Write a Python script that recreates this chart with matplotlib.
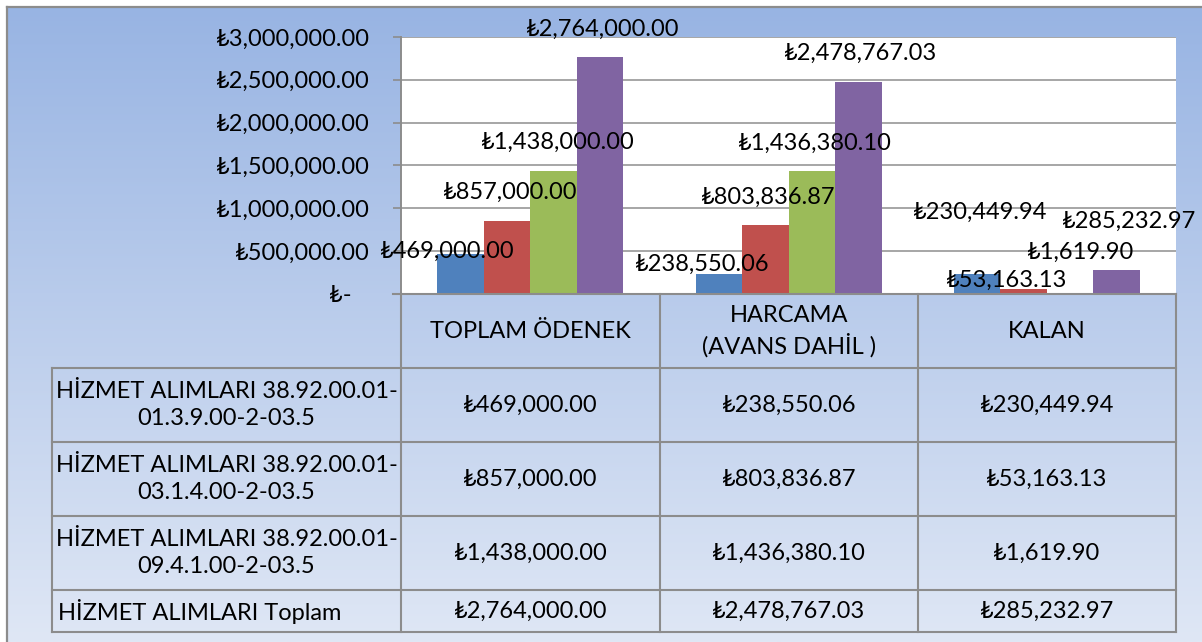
import numpy as np
import matplotlib
matplotlib.use('Agg')
import matplotlib.pyplot as plt
from matplotlib.ticker import FuncFormatter
from matplotlib.lines import Line2D
from matplotlib.colors import to_rgb

# ---------------- data ----------------
categories = ['TOPLAM ÖDENEK', 'HARCAMA\n(AVANS DAHİL )', 'KALAN']
series_names = ['HİZMET ALIMLARI 38.92.00.01-\n01.3.9.00-2-03.5',
                'HİZMET ALIMLARI 38.92.00.01-\n03.1.4.00-2-03.5',
                'HİZMET ALIMLARI 38.92.00.01-\n09.4.1.00-2-03.5',
                'HİZMET ALIMLARI Toplam']
series_1 = [469000.00, 238550.06, 230449.94]
series_2 = [857000.00, 803836.87, 53163.13]
series_3 = [1438000.00, 1436380.10, 1619.90]
series_4 = [2764000.00, 2478767.03, 285232.97]
y_ticks = [0, 500000, 1000000, 1500000, 2000000, 2500000, 3000000]

series = [series_1, series_2, series_3, series_4]
colors = ['#4F81BD', '#C0504D', '#9BBB59', '#8064A2']

# label offsets (pixels) relative to top-centre of each bar  [series][category]
label_offsets = [[(-13, 2), (-16, 9), (3, 62)],
                 [(3, 28), (3, 28), (-17, 9)],
                 [(4, 28), (3, 28), (10, 42)],
                 [(3, 28), (2, 28), (12, 48)]]

FONT = ['Lato', 'Noto Sans', 'DejaVu Sans']
FS = 17
plt.rcParams['font.family'] = FONT

W, H = 1202, 642
fig = plt.figure(figsize=(W / 100, H / 100), dpi=100, facecolor='white')

def fx(x):
    return x / W

def fy(y):
    return 1 - y / H

# ---------------- background gradient ----------------
bg = fig.add_axes([fx(7), 0, 1 - fx(7), fy(7)], zorder=-10)
top_c = np.array(to_rgb('#98B4E3'))
bot_c = np.array(to_rgb('#DFE7F5'))
t = np.linspace(0, 1, 256)[:, None]
grad = top_c[None, None, :] * (1 - t[:, :, None]) + bot_c[None, None, :] * t[:, :, None]
bg.imshow(grad, aspect='auto', extent=[0, 1, 0, 1], origin='upper')
bg.set_axis_off()

border_c = '#8C8C8C'
fig.add_artist(Line2D([fx(7), 1], [fy(7), fy(7)], color=border_c, lw=1.6, transform=fig.transFigure))
fig.add_artist(Line2D([fx(7), fx(7)], [fy(7), 0], color=border_c, lw=1.6, transform=fig.transFigure))

# ---------------- plot area ----------------
pl, pr, pt, pb = 401, 1176, 37, 294
ax = fig.add_axes([fx(pl), fy(pb), fx(pr - pl), (pb - pt) / H])
ax.set_facecolor('white')
ax.set_xlim(-0.5, len(categories) - 0.5)
ax.set_ylim(0, 3000000)

bw = 0.18
x = np.arange(len(categories))
for i, (vals, c) in enumerate(zip(series, colors)):
    xs = x + (i - 1.5) * bw
    ax.bar(xs, vals, width=bw, color=c, zorder=3)
    for j, (xv, v) in enumerate(zip(xs, vals)):
        dx, dy = label_offsets[i][j]
        ax.annotate('₺{:,.2f}'.format(v), xy=(xv, v), xytext=(dx, dy),
                    textcoords='offset pixels', ha='center', va='center',
                    fontsize=FS, color='black', zorder=5, annotation_clip=False)

ax.set_yticks(y_ticks)
ax.yaxis.set_major_formatter(FuncFormatter(
    lambda v, p: '₺-   ' if v == 0 else '₺{:,.2f}'.format(v)))
ax.grid(axis='y', color='#A6A6A6', lw=1.4, zorder=0)
ax.set_axisbelow(True)
ax.tick_params(axis='y', length=5.8, width=1.2, color='#8C8C8C', pad=16.5, labelsize=FS)
ax.tick_params(axis='x', bottom=False, labelbottom=False)
for s in ['top', 'right', 'bottom']:
    ax.spines[s].set_visible(False)
ax.spines['left'].set_color('#8C8C8C')
ax.spines['left'].set_linewidth(1.4)

# ---------------- data table ----------------
line_c = '#8C8C8C'
col_x = [401, 660, 918, 1176]
label_x0 = 52
row_y = [294, 368, 442, 516, 590, 632]

def hline(y, x0, x1):
    fig.add_artist(Line2D([fx(x0), fx(x1)], [fy(y), fy(y)], color=line_c, lw=1.5,
                          transform=fig.transFigure))

def vline(x, y0, y1):
    fig.add_artist(Line2D([fx(x), fx(x)], [fy(y0), fy(y1)], color=line_c, lw=1.5,
                          transform=fig.transFigure))

hline(row_y[0], 393, col_x[-1])
for y in row_y[1:]:
    hline(y, label_x0, col_x[-1])
for xc in col_x:
    vline(xc, row_y[0], row_y[-1])
vline(label_x0, row_y[1], row_y[-1])

# header
for j, cat in enumerate(categories):
    cx = (col_x[j] + col_x[j + 1]) / 2
    cy = (row_y[0] + row_y[1]) / 2
    fig.text(fx(cx), fy(cy), cat, ha='center', va='center', fontsize=FS,
             linespacing=1.35, color='black')

# rows
for i, name in enumerate(series_names):
    cy = (row_y[i + 1] + row_y[i + 2]) / 2
    if '\n' in name:
        fig.text(fx((label_x0 + col_x[0]) / 2), fy(cy), name, ha='center', va='center',
                 fontsize=FS, linespacing=1.4, color='black', multialignment='center')
    else:
        fig.text(fx(label_x0 + 6), fy(cy), name, ha='left', va='center',
                 fontsize=FS, color='black')
    for j, v in enumerate(series[i]):
        cx = (col_x[j] + col_x[j + 1]) / 2
        fig.text(fx(cx), fy(cy), '₺{:,.2f}'.format(v), ha='center', va='center',
                 fontsize=FS, color='black')

fig.savefig('out.png', dpi=100, facecolor='white')
